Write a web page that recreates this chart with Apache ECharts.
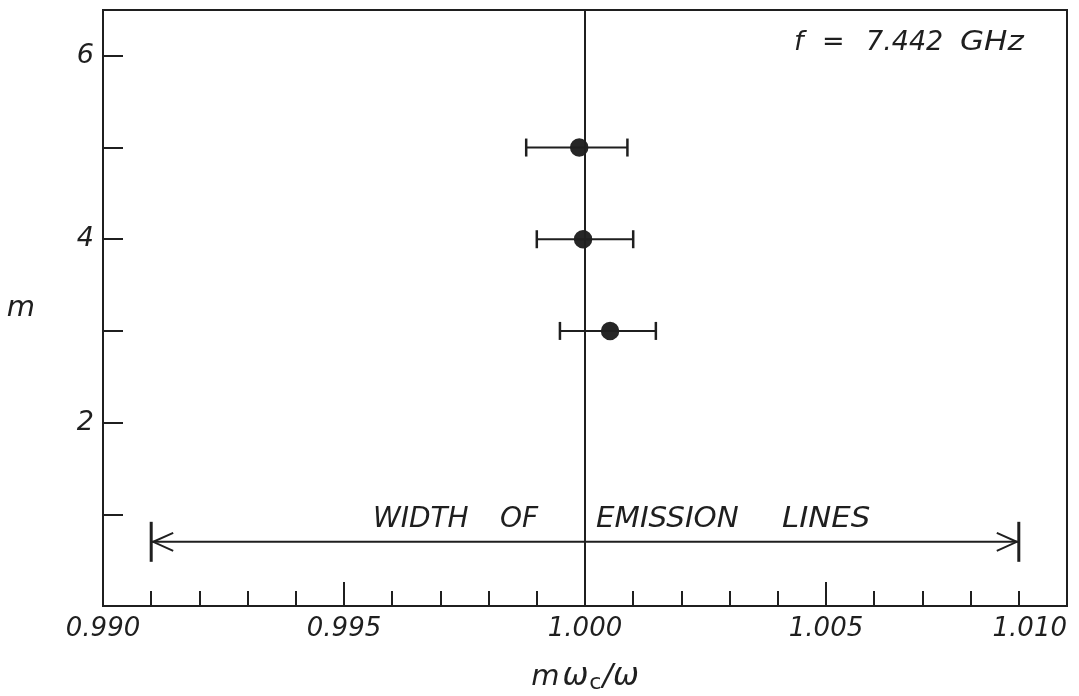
<!DOCTYPE html>
<html>
<head>
<meta charset="utf-8">
<title>Cyclotron emission harmonics, f = 7.442 GHz</title>
<script src="https://cdn.jsdelivr.net/npm/echarts@6/dist/echarts.min.js"></script>
<style>
  html, body { margin: 0; padding: 0; background: #ffffff; }
  #chart { width: 1079px; height: 696px; }
</style>
</head>
<body>
<div id="chart"></div>
<script>
// Harmonic number m and measured ratio m·ωc/ω with its error range
const harmonics = [5, 4, 3];
const ratioValues = [0.99988, 0.99996, 1.00052];
const ratioLow = [0.99878, 0.99900, 0.99948];
const ratioHigh = [1.00088, 1.00100, 1.00147];

// Extent of the emission lines, drawn as a double arrow
const emissionWidth = [0.991, 1.009];
const emissionLevel = 0.7;

// Reference ratio of exactly one
const unityRatio = 1.000;

// Axis ticks
const xTickValues = [0.990, 0.995, 1.000, 1.005, 1.010];
const yTickLabels = [2, 4, 6];

const ink = '#1f1f1f';
const font = '"DejaVu Sans", "Liberation Sans", sans-serif';

const chart = echarts.init(document.getElementById('chart'), null, { renderer: 'canvas' });

const pointData = harmonics.map((m, i) => [ratioValues[i], m]);
const errorData = harmonics.map((m, i) => [ratioLow[i], ratioHigh[i], m]);

const option = {
  backgroundColor: '#ffffff',
  animation: false,
  grid: {
    left: 103, right: 12, top: 10, bottom: 90,
    outerBoundsMode: 'none',
    containLabel: false,
    show: true, borderColor: ink, borderWidth: 2, backgroundColor: 'transparent'
  },
  xAxis: {
    type: 'value',
    min: xTickValues[0],
    max: xTickValues[xTickValues.length - 1],
    interval: 0.005,
    name: '{m|m}{w|ω}{c|c}{w|/ω}',
    nameLocation: 'middle',
    nameGap: 54,
    nameTextStyle: {
      rich: {
        m: { fontFamily: font, fontStyle: 'italic', fontSize: 29, color: ink, padding: [0, 3, 0, 0] },
        w: { fontFamily: font, fontStyle: 'italic', fontSize: 31, color: ink },
        c: { fontFamily: font, fontSize: 22, color: ink, verticalAlign: 'bottom', padding: [12, 1, 0, 1] }
      }
    },
    axisLine: { show: true, lineStyle: { color: ink, width: 2 } },
    axisTick: { show: true, inside: true, length: 24, lineStyle: { color: ink, width: 2 } },
    minorTick: { show: true, splitNumber: 5, length: 15, lineStyle: { color: ink, width: 2 } },
    splitLine: { show: false },
    minorSplitLine: { show: false },
    axisLabel: {
      margin: 10,
      fontFamily: font, fontStyle: 'italic', fontSize: 26, color: ink,
      alignMaxLabel: 'right',
      formatter: v => v.toFixed(3)
    }
  },
  yAxis: {
    type: 'value',
    min: 0,
    max: 6.5,
    interval: 1,
    name: 'm',
    nameLocation: 'middle',
    nameRotate: 0,
    nameGap: 68,
    nameTextStyle: { fontFamily: font, fontStyle: 'italic', fontSize: 29, color: ink },
    axisLine: { show: true, lineStyle: { color: ink, width: 2 } },
    axisTick: { show: true, inside: true, length: 20, lineStyle: { color: ink, width: 2 } },
    splitLine: { show: false },
    axisLabel: {
      margin: 9,
      fontFamily: font, fontStyle: 'italic', fontSize: 27, color: ink,
      formatter: v => (yTickLabels.indexOf(v) >= 0 ? String(v) : '')
    }
  },
  series: [
    {
      // vertical reference line at ratio 1
      type: 'line',
      data: [],
      silent: true,
      markLine: {
        symbol: 'none',
        silent: true,
        label: { show: false },
        lineStyle: { color: ink, width: 2, type: 'solid' },
        data: [{ xAxis: unityRatio }]
      }
    },
    {
      type: 'scatter',
      data: pointData,
      symbol: 'circle',
      symbolSize: 21,
      z: 3,
      itemStyle: { color: '#262626', borderColor: '#ffffff', borderWidth: 2.5, opacity: 1 }
    },
    {
      // horizontal error bars with end caps
      type: 'custom',
      data: errorData,
      z: 4,
      renderItem: (params, api) => {
        const a = api.coord([api.value(0), api.value(2)]);
        const b = api.coord([api.value(1), api.value(2)]);
        const cap = 9;
        const style = { stroke: ink, lineWidth: 2 };
        return {
          type: 'group',
          children: [
            { type: 'line', shape: { x1: a[0], y1: a[1], x2: b[0], y2: b[1] }, style },
            { type: 'line', shape: { x1: a[0], y1: a[1] - cap, x2: a[0], y2: a[1] + cap }, style: { stroke: ink, lineWidth: 2.5 } },
            { type: 'line', shape: { x1: b[0], y1: b[1] - cap, x2: b[0], y2: b[1] + cap }, style: { stroke: ink, lineWidth: 2.5 } }
          ]
        };
      }
    },
    {
      // double arrow showing the width of the emission lines
      type: 'custom',
      data: [[emissionWidth[0], emissionWidth[1], emissionLevel]],
      z: 2,
      renderItem: (params, api) => {
        const a = api.coord([api.value(0), api.value(2)]);
        const b = api.coord([api.value(1), api.value(2)]);
        const bar = 20, headLen = 22, headHalf = 9;
        const style = { stroke: ink, lineWidth: 2, fill: null };
        return {
          type: 'group',
          children: [
            { type: 'line', shape: { x1: a[0], y1: a[1], x2: b[0], y2: b[1] }, style },
            { type: 'line', shape: { x1: a[0], y1: a[1] - bar, x2: a[0], y2: a[1] + bar }, style: { stroke: ink, lineWidth: 3 } },
            { type: 'line', shape: { x1: b[0], y1: b[1] - bar, x2: b[0], y2: b[1] + bar }, style: { stroke: ink, lineWidth: 3 } },
            { type: 'polyline', shape: { points: [[a[0] + headLen, a[1] - headHalf], [a[0] + 2, a[1]], [a[0] + headLen, a[1] + headHalf]] }, style },
            { type: 'polyline', shape: { points: [[b[0] - headLen, b[1] - headHalf], [b[0] - 2, b[1]], [b[0] - headLen, b[1] + headHalf]] }, style }
          ]
        };
      }
    }
  ],
  graphic: [
    { type: 'text', left: 373, top: 506, style: { text: 'WIDTH', font: 'italic 28px ' + font, fill: ink } },
    { type: 'text', left: 500, top: 506, style: { text: 'OF', font: 'italic 28px ' + font, fill: ink } },
    { type: 'text', left: 596, top: 506, style: { text: 'EMISSION', font: 'italic 28px ' + font, fill: ink }, scaleX: 1.05 },
    { type: 'text', left: 782, top: 506, style: { text: 'LINES', font: 'italic 28px ' + font, fill: ink }, scaleX: 1.1 },
    { type: 'text', left: 794, top: 29, style: { text: 'f', font: 'italic 27px ' + font, fill: ink } },
    { type: 'text', left: 822, top: 29, style: { text: '=', font: '27px ' + font, fill: ink } },
    { type: 'text', left: 866, top: 29, style: { text: '7.442', font: 'italic 27px ' + font, fill: ink } },
    { type: 'text', left: 960, top: 29, style: { text: 'GHz', font: 'italic 27px ' + font, fill: ink }, scaleX: 1.15 }
  ]
};

chart.setOption(option);
</script>
</body>
</html>
